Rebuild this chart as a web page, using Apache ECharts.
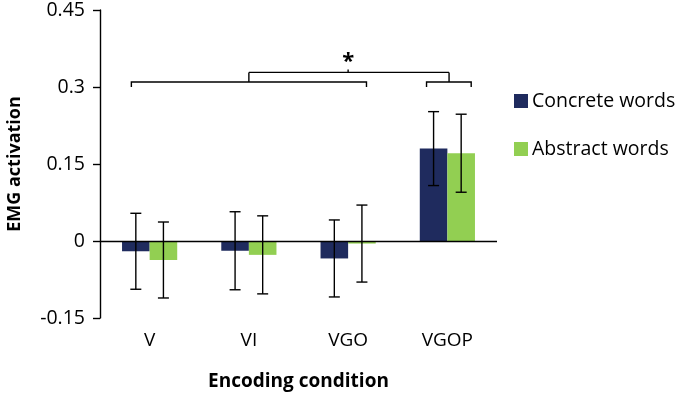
<!DOCTYPE html>
<html>
<head>
<meta charset="utf-8">
<script src="https://cdn.jsdelivr.net/npm/echarts@6/dist/echarts.min.js"></script>
<style>html,body{margin:0;padding:0;background:#fff;}#c{width:685px;height:395px;}</style>
</head>
<body>
<div id="c"></div>
<script>
// ---- data ----
var categories = ['V', 'VI', 'VGO', 'VGOP'];
var seriesNames = ['Concrete words', 'Abstract words'];
var concreteMean = [-0.020, -0.019, -0.034, 0.180];
var abstractMean = [-0.037, -0.027, -0.005, 0.171];
var concreteErr = [0.074, 0.076, 0.075, 0.072];
var abstractErr = [0.074, 0.076, 0.075, 0.076];
var yTicks = [-0.15, 0, 0.15, 0.3, 0.45];
var sigLabel = '*';

// ---- chart ----
var FONT = '"Open Sans", sans-serif';
var NAVY = '#1F2B5E';
var GREEN = '#92CF52';
var BARW = 0.278; // fraction of band

function errData(mean, err) {
  return mean.map(function (m, i) { return [i, m - err[i], m + err[i]]; });
}
function makeErr(offsetSign) {
  return function (params, api) {
    var i = api.value(0);
    var lo = api.coord([i, api.value(1)]);
    var hi = api.coord([i, api.value(2)]);
    var band = api.size([1, 0])[0];
    var x = lo[0] + offsetSign * band * BARW / 2;
    var cap = 5.5;
    var st = { stroke: '#000', lineWidth: 1.4 };
    return {
      type: 'group',
      children: [
        { type: 'line', shape: { x1: x, y1: lo[1], x2: x, y2: hi[1] }, style: st },
        { type: 'line', shape: { x1: x - cap, y1: lo[1], x2: x + cap, y2: lo[1] }, style: st },
        { type: 'line', shape: { x1: x - cap, y1: hi[1], x2: x + cap, y2: hi[1] }, style: st }
      ]
    };
  };
}

// significance bracket, in category-index / value units
var bracketLow = 0.300, bracketMid = 0.3097, bracketHigh = 0.3284;
var brackets = [[-0.184, 2.185, 1.0], [2.79, 3.24, 3.017]];
var starX = 2.0, starY = 0.350;

function bracketRender(params, api) {
  var band = api.size([1, 0])[0];
  function P(xi, v) {
    var base = api.coord([0, v]);
    return [base[0] + xi * band, base[1]];
  }
  var st = { stroke: '#000', lineWidth: 1.4, fill: null };
  var ch = [];
  brackets.forEach(function (b) {
    ch.push({ type: 'polyline', shape: { points: [P(b[0], bracketLow), P(b[0], bracketMid), P(b[1], bracketMid), P(b[1], bracketLow)] }, style: st });
    ch.push({ type: 'line', shape: { x1: P(b[2], 0)[0], y1: P(0, bracketMid)[1], x2: P(b[2], 0)[0], y2: P(0, bracketHigh)[1] }, style: st });
  });
  ch.push({ type: 'line', shape: { x1: P(brackets[0][2], 0)[0], y1: P(0, bracketHigh)[1], x2: P(brackets[1][2], 0)[0], y2: P(0, bracketHigh)[1] }, style: st });
  ch.push({ type: 'line', shape: { x1: P(starX, 0)[0], y1: P(0, bracketHigh)[1], x2: P(starX, 0)[0], y2: P(0, bracketHigh)[1] - 3 }, style: st });
  var s = P(starX, starY);
  ch.push({ type: 'text', style: { text: sigLabel, x: s[0], y: s[1], align: 'center', verticalAlign: 'middle', font: 'bold 22px ' + FONT, fill: '#000' } });
  return { type: 'group', children: ch };
}

var chart = echarts.init(document.getElementById('c'));
chart.setOption({
  animation: false,
  backgroundColor: '#fff',
  grid: { left: 100, right: 188, top: 10, bottom: 77, containLabel: false, outerBoundsMode: 'none' },
  legend: {
    orient: 'vertical', left: 509, top: 86, itemWidth: 14, itemHeight: 14, itemGap: 28,
    icon: 'rect',
    textStyle: { fontFamily: FONT, fontSize: 19.5, color: '#000', padding: [0, 0, 0, -1] },
    data: seriesNames
  },
  xAxis: {
    type: 'category', data: categories,
    name: 'Encoding condition', nameLocation: 'middle', nameGap: 54,
    nameTextStyle: { fontFamily: FONT, fontSize: 19, fontWeight: 'bold', color: '#000' },
    axisLine: { show: false }, axisTick: { show: false },
    axisLabel: { fontFamily: FONT, fontSize: 19, color: '#000', margin: 13 }
  },
  yAxis: {
    type: 'value', min: yTicks[0], max: yTicks[yTicks.length - 1], interval: 0.15,
    name: 'EMG activation', nameLocation: 'middle', nameGap: 76, nameRotate: 90,
    nameTextStyle: { fontFamily: FONT, fontSize: 18, fontWeight: 'bold', color: '#000' },
    axisLine: { show: true, lineStyle: { color: '#000', width: 1.4 } },
    axisTick: { show: true, length: 7, lineStyle: { color: '#000', width: 1.4 } },
    splitLine: { show: false },
    axisLabel: { fontFamily: FONT, fontSize: 19.5, color: '#000', margin: 15,
      formatter: function (v) { return String(Math.round(v * 100) / 100); } }
  },
  series: [
    {
      name: seriesNames[0], type: 'bar', data: concreteMean, barWidth: (BARW * 100) + '%', barGap: '0%',
      itemStyle: { color: NAVY },
      markLine: { silent: true, symbol: 'none', label: { show: false },
        lineStyle: { color: '#000', width: 1.4, type: 'solid' }, data: [{ yAxis: 0 }] }
    },
    { name: seriesNames[1], type: 'bar', data: abstractMean, barWidth: (BARW * 100) + '%', barGap: '0%', itemStyle: { color: GREEN } },
    { type: 'custom', renderItem: makeErr(-1), data: errData(concreteMean, concreteErr), z: 10, silent: true },
    { type: 'custom', renderItem: makeErr(1), data: errData(abstractMean, abstractErr), z: 10, silent: true },
    { type: 'custom', renderItem: bracketRender, data: [[0, 0]], z: 10, silent: true }
  ]
});
</script>
</body>
</html>
